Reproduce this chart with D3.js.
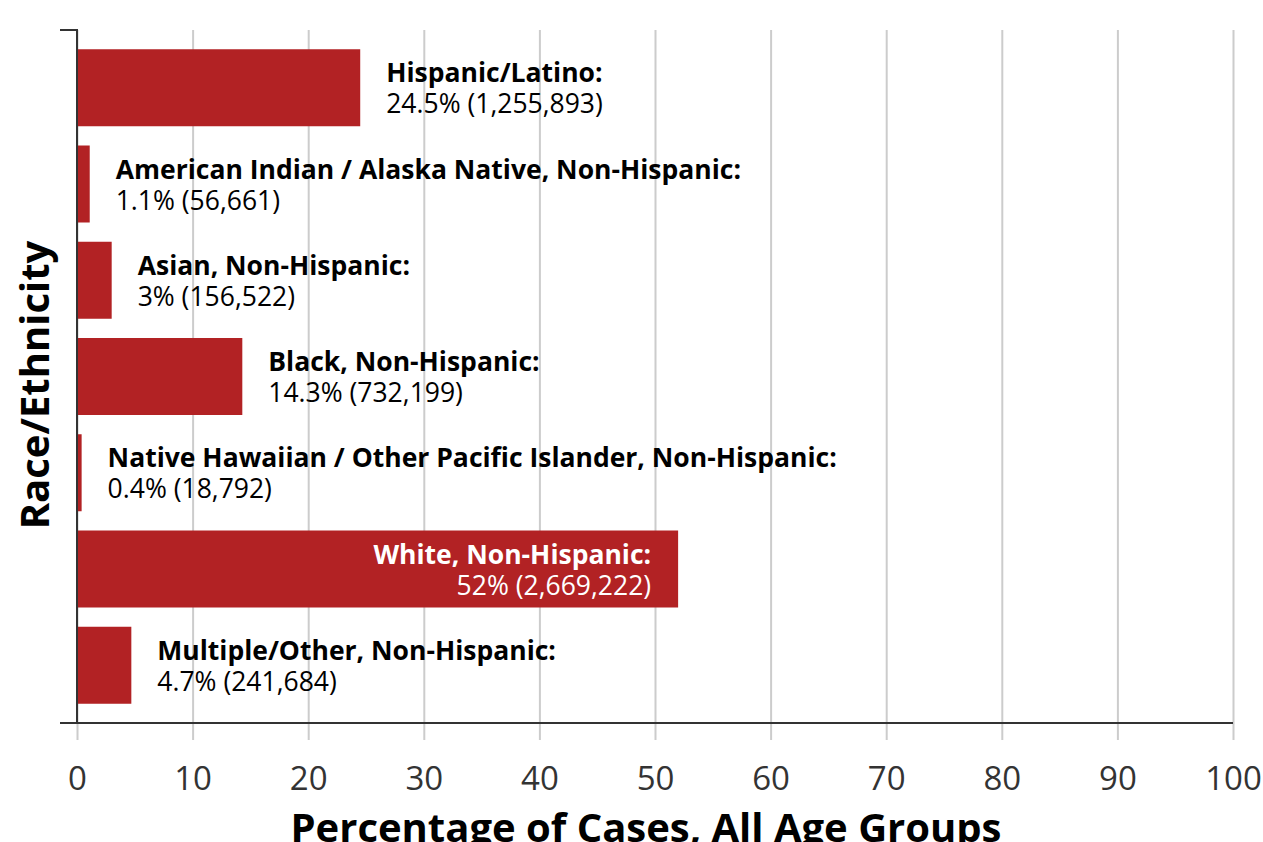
<!DOCTYPE html>
<html><head><meta charset="utf-8">
<script src="https://cdn.jsdelivr.net/npm/d3@7"></script>
<style>
html,body{margin:0;padding:0;background:#fff;}
svg{display:block;font-family:"Open Sans",sans-serif;}
</style></head>
<body><svg id="c" width="1263" height="842"></svg>
<script>
const categories = ["Hispanic/Latino:", "American Indian / Alaska Native, Non-Hispanic:", "Asian, Non-Hispanic:", "Black, Non-Hispanic:", "Native Hawaiian / Other Pacific Islander, Non-Hispanic:", "White, Non-Hispanic:", "Multiple/Other, Non-Hispanic:"];
const percents = [24.5, 1.1, 3, 14.3, 0.4, 52, 4.7];
const counts = ["1,255,893", "56,661", "156,522", "732,199", "18,792", "2,669,222", "241,684"];
const xTicks = [0, 10, 20, 30, 40, 50, 60, 70, 80, 90, 100];
const xTitle = "Percentage of Cases, All Age Groups";
const yTitle = "Race/Ethnicity";

(function(){
const svg = d3.select("#c");
const mLeft = 77, mRight = 1233, mTop = 30, mBottom = 723;
const x = d3.scaleLinear().domain([0, 100]).range([mLeft, mRight]);
const y = d3.scaleBand().domain(categories).range([mTop, mBottom]).paddingInner(0.2).paddingOuter(0.2);

const xa = svg.append("g").attr("transform", `translate(0,${mBottom})`)
  .call(d3.axisBottom(x).tickValues(xTicks).tickSize(17).tickSizeOuter(0).tickPadding(27));
xa.select(".domain").remove();
xa.selectAll(".tick line").attr("y1", mTop - mBottom).attr("y2", 17).attr("stroke", "#cccccc").attr("stroke-width", 2);
xa.selectAll(".tick text").attr("fill", "#333").style("font-size", "33px").style("font-family", "Open Sans");

svg.append("g").selectAll("rect").data(categories).join("rect")
  .attr("x", x(0)).attr("y", d => y(d))
  .attr("width", (d, i) => x(percents[i]) - x(0))
  .attr("height", y.bandwidth()).attr("fill", "#b22224");

svg.append("path").attr("d", `M${mLeft-17},${mTop}H${mLeft}V${mBottom}`).attr("fill", "none").attr("stroke", "#333").attr("stroke-width", 2);
svg.append("path").attr("d", `M${mLeft-17},${mBottom}H${mRight}`).attr("fill", "none").attr("stroke", "#333").attr("stroke-width", 2);

svg.append("g").selectAll("text").data(categories).join("text")
  .each(function(d, i) {
    const inside = percents[i] > 40;
    const cy = y(d) + y.bandwidth() / 2;
    const tx = inside ? x(percents[i]) - 27 : x(percents[i]) + 26;
    const t = d3.select(this)
      .attr("x", tx)
      .attr("text-anchor", inside ? "end" : "start")
      .attr("fill", inside ? "#fff" : "#000")
      .style("font-size", "26.5px");
    t.append("tspan").attr("x", tx).attr("y", cy - 5.5).attr("font-weight", "bold").text(d);
    t.append("tspan").attr("x", tx).attr("y", cy + 25.5).text(`${percents[i]}% (${counts[i]})`);
  });

svg.append("text").attr("x", 646).attr("y", 842).attr("text-anchor", "middle")
  .attr("font-weight", "bold").style("font-size", "40px").attr("fill", "#000").text(xTitle);
svg.append("text").attr("transform", `translate(49,385) rotate(-90)`).attr("text-anchor", "middle")
  .attr("font-weight", "bold").style("font-size", "40px").attr("fill", "#000").text(yTitle);
})();
</script></body></html>
